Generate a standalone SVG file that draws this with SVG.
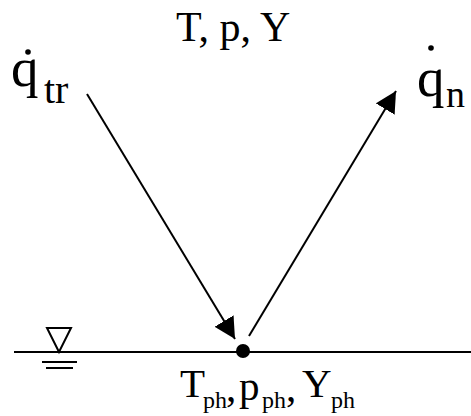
<svg xmlns="http://www.w3.org/2000/svg" width="471" height="416" viewBox="0 0 471 416">
<style>
.t{font-family:"Liberation Serif","Times New Roman",serif;fill:#000}
.ln{stroke:#000;stroke-width:2;fill:none}
</style>
<defs>
<marker id="ah" markerUnits="userSpaceOnUse" markerWidth="22" markerHeight="22" refX="21" refY="11" orient="auto">
<path d="M0,0 L21,11 L0,22 Z" fill="#000"/>
</marker>
</defs>
<rect width="471" height="416" fill="#fff"/>
<g id="surface">
<line class="ln" x1="14" y1="352" x2="471" y2="352"/>
<path class="ln" d="M47,328 L71,328 L59,352 Z"/>
<line class="ln" x1="42" y1="362" x2="77" y2="362"/>
<line class="ln" x1="46" y1="368" x2="73" y2="368"/>
</g>
<g id="point">
<circle cx="243" cy="351" r="7" fill="#000"/>
</g>
<g id="connectors">
<line class="ln" x1="87" y1="94" x2="235" y2="339" marker-end="url(#ah)"/>
<line class="ln" x1="249" y1="336" x2="396" y2="91" marker-end="url(#ah)"/>
</g>
<g id="label-qtr">
<circle cx="28" cy="52" r="2.8" fill="#000"/>
<text class="t" x="11" y="86" font-size="55">q</text>
<text class="t" x="44" y="103" font-size="40">tr</text>
</g>
<g id="label-qn">
<circle cx="431" cy="48" r="2.8" fill="#000"/>
<text class="t" x="417" y="96" font-size="55">q</text>
<text class="t" x="446" y="107" font-size="38">n</text>
</g>
<g id="label-gas">
<text class="t" x="176" y="41" font-size="42">T, p, Y</text>
</g>
<g id="label-phase">
<text class="t" font-size="41"><tspan x="180" y="397">T</tspan><tspan x="203" y="408" font-size="24">ph</tspan><tspan x="226" y="401">,</tspan><tspan x="239" y="400">p</tspan><tspan x="262" y="408" font-size="24">ph</tspan><tspan x="286" y="401">,</tspan><tspan x="302" y="397">Y</tspan><tspan x="331" y="408" font-size="24">ph</tspan></text>
</g>
</svg>
